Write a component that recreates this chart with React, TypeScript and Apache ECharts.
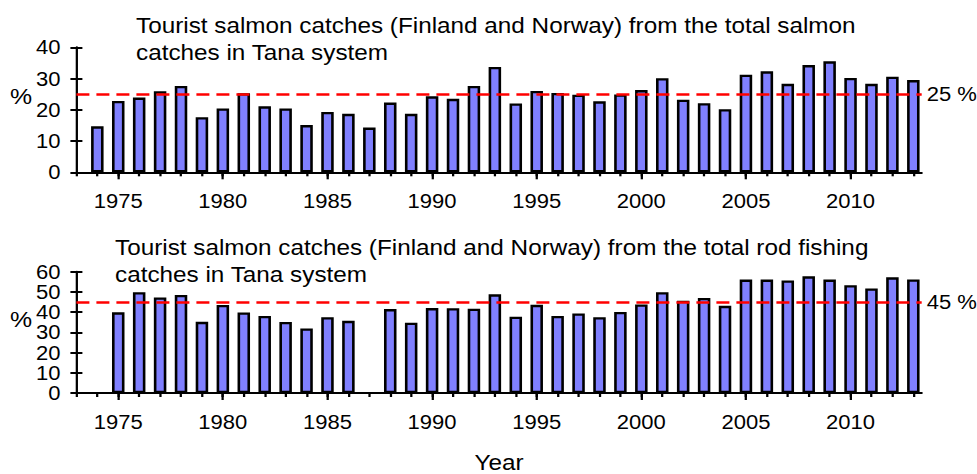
import { useRef, useEffect } from 'react'
import * as echarts from 'echarts'

// the reference picture is stretched sideways, so the chart is drawn narrower and scaled back
const S = 1.13
const px = (v: number) => v / S
const FONT = '"Liberation Sans", Arial, sans-serif'

const years = [
  1974, 1975, 1976, 1977, 1978, 1979, 1980, 1981, 1982, 1983,
  1984, 1985, 1986, 1987, 1988, 1989, 1990, 1991, 1992, 1993,
  1994, 1995, 1996, 1997, 1998, 1999, 2000, 2001, 2002, 2003,
  2004, 2005, 2006, 2007, 2008, 2009, 2010, 2011, 2012, 2013,
]
const tickYears = [1973, ...years]
const labelYears = [1975, 1980, 1985, 1990, 1995, 2000, 2005, 2010]

// % of total salmon catches
const salmonShare = [
  14.7, 22.8, 23.9, 25.9, 27.6, 17.6, 20.4, 25.3, 21.1, 20.4,
  15.1, 19.3, 18.7, 14.3, 22.3, 18.7, 24.3, 23.5, 27.6, 33.7,
  22.0, 26.0, 25.4, 24.8, 22.7, 24.9, 26.3, 30.1, 23.2, 22.1,
  20.2, 31.2, 32.3, 28.3, 34.3, 35.5, 30.2, 28.3, 30.6, 29.5,
]
// % of total rod fishing catches
const rodShare = [
  null, 39.9, 49.8, 47.3, 48.5, 35.2, 43.5, 39.8, 38.1, 35.1,
  31.9, 37.5, 35.7, null, 41.5, 34.8, 42.0, 41.9, 41.7, 48.8,
  37.7, 43.6, 38.1, 39.3, 37.5, 40.1, 43.8, 49.8, 45.6, 47.0,
  43.1, 56.1, 56.1, 55.7, 57.7, 56.1, 53.3, 51.7, 57.2, 56.2,
]

const titles = [
  'Tourist salmon catches (Finland and Norway) from the total salmon\ncatches in Tana system',
  'Tourist salmon catches (Finland and Norway) from the total rod fishing\ncatches in Tana system',
]

function App() {
  const chartRef = useRef<HTMLDivElement>(null)

  useEffect(() => {
    if (!chartRef.current) return
    const chart = echarts.init(chartRef.current, null, { renderer: 'svg' })

    const line = { color: '#000', width: 2 }
    const xAxes = (gi: number, last: boolean) => [
      {
        type: 'value', gridIndex: gi, min: 1973, max: 2013.4, position: 'bottom',
        axisLine: { show: true, lineStyle: line },
        axisTick: { show: true, customValues: tickYears, length: 4, lineStyle: line },
        axisLabel: { show: false },
        splitLine: { show: false },
      },
      {
        type: 'value', gridIndex: gi, min: 1973, max: 2013.4, position: 'bottom',
        axisLine: { show: false },
        axisTick: { show: true, customValues: labelYears, length: 7, lineStyle: line },
        axisLabel: {
          customValues: labelYears, fontSize: 19.5, color: '#000', margin: 19,
          fontFamily: FONT, formatter: (v: number) => String(v),
        },
        splitLine: { show: false },
        name: last ? 'Year' : '',
        nameLocation: 'middle',
        nameGap: 58,
        nameTextStyle: { fontSize: 21.5, color: '#000', fontFamily: FONT },
      },
    ]
    const yAxes = (gi: number, max: number) => [
      {
        type: 'value', gridIndex: gi, min: 0, max, interval: 10, position: 'left',
        axisLine: { show: true, lineStyle: line },
        axisTick: { show: true, length: px(6), lineStyle: line },
        axisLabel: { fontSize: 19.5, color: '#000', margin: px(16), fontFamily: FONT },
        splitLine: { show: false },
      },
      {
        type: 'value', gridIndex: gi, min: 0, max, interval: 10, position: 'left',
        axisLine: { show: false },
        axisTick: { show: true, inside: true, length: px(6), lineStyle: line },
        axisLabel: { show: false },
        splitLine: { show: false },
      },
    ]
    const bars = (vals: (number | null)[], axis: number, ref: number) => ({
      type: 'bar',
      xAxisIndex: axis,
      yAxisIndex: axis,
      data: years.map((y, i) => [y, vals[i]]).filter((d) => d[1] !== null),
      barWidth: px(12.5),
      itemStyle: { color: '#8080FF', borderColor: '#000', borderWidth: 2.3 },
      markLine: {
        silent: true,
        symbol: 'none',
        data: [{ yAxis: ref }],
        lineStyle: { color: '#FF0000', type: [px(13), px(7)], width: 2.5 },
        label: {
          position: 'end', formatter: ref + ' %', fontSize: 19.5, color: '#000',
          distance: px(5), fontFamily: FONT,
        },
      },
    })

    chart.setOption({
      animation: false,
      textStyle: { fontFamily: FONT },
      title: [
        {
          text: titles[0], left: px(136), top: 12, padding: 0,
          textStyle: { fontSize: 21.5, fontWeight: 'normal', color: '#000', lineHeight: 27, fontFamily: FONT },
        },
        {
          text: titles[1], left: px(115), top: 234, padding: 0,
          textStyle: { fontSize: 21.5, fontWeight: 'normal', color: '#000', lineHeight: 27, fontFamily: FONT },
        },
      ],
      grid: [
        { left: px(76.4), width: px(845.3), top: 47.3, height: 125 },
        { left: px(76.4), width: px(845.3), top: 271.7, height: 124 },
      ],
      xAxis: [...xAxes(0, false), ...xAxes(1, true)],
      yAxis: [...yAxes(0, 40), ...yAxes(1, 60)],
      graphic: [
        { type: 'text', x: px(21), y: 97, style: { text: '%', fontSize: 22, fill: '#000', align: 'center', verticalAlign: 'middle', fontFamily: FONT } },
        { type: 'text', x: px(21), y: 320, style: { text: '%', fontSize: 22, fill: '#000', align: 'center', verticalAlign: 'middle', fontFamily: FONT } },
      ],
      series: [bars(salmonShare, 0, 25), bars(rodShare, 2, 45)],
    })

    return () => {
      chart.dispose()
    }
  }, [])

  return (
    <div style={{ position: 'fixed', left: 0, top: 0, width: '977px', height: '474px', overflow: 'hidden', background: '#fff' }}>
      <div
        ref={chartRef}
        style={{ width: `${977 / S}px`, height: '474px', transform: `scaleX(${S})`, transformOrigin: 'left top' }}
      ></div>
    </div>
  )
}

export default App
